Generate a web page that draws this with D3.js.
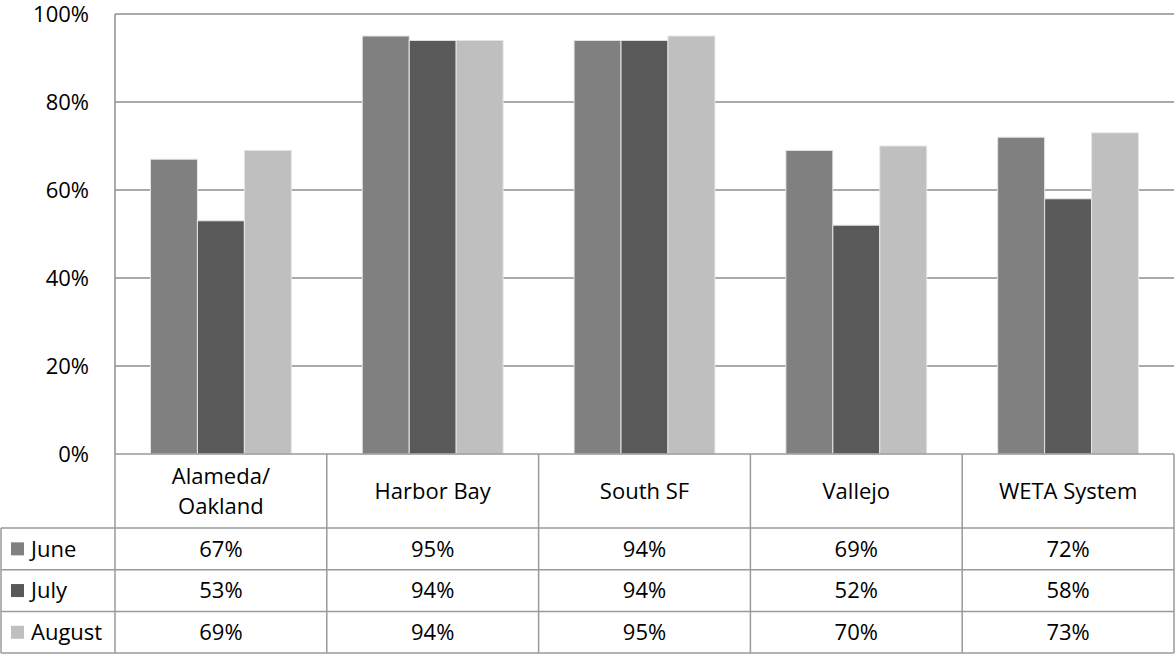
<!DOCTYPE html>
<html>
<head>
<meta charset="utf-8">
<script src="https://cdn.jsdelivr.net/npm/d3@7"></script>
<style>
  html, body { margin: 0; padding: 0; background: #fff; }
  svg { display: block; }
  text { font-family: "Open Sans", sans-serif; fill: #000; }
</style>
</head>
<body>
<svg id="chart" width="1175" height="656"></svg>
<script>
// Ferry on-time performance by route, summer months
const categories = [["Alameda/", "Oakland"], ["Harbor Bay"], ["South SF"], ["Vallejo"], ["WETA System"]];
const seriesNames = ["June", "July", "August"];
const june   = [67, 95, 94, 69, 72];
const july   = [53, 94, 94, 52, 58];
const august = [69, 94, 95, 70, 73];
const seriesValues = [june, july, august];
const seriesColors = ["#808080", "#595959", "#bfbfbf"];
const yTicks = [0, 20, 40, 60, 80, 100];

const plot = { left: 115, right: 1174, top: 14, bottom: 454 };
const table = { left: 1, headerBottom: 528, rowH: 41.7 };
const fontSize = 22;
const gridColor = "#8e8e8e";
const borderColor = "#9a9a9a";

const svg = d3.select("#chart");

const catIdx = d3.range(categories.length);
const x = d3.scaleBand().domain(catIdx).range([plot.left, plot.right]).paddingInner(0.335).paddingOuter(0.1675);
// table columns use the full category step
const col = d3.scaleBand().domain(catIdx).range([plot.left, plot.right]);
const xs = d3.scaleBand().domain(d3.range(seriesNames.length)).range([0, x.bandwidth()]);
const y = d3.scaleLinear().domain([0, 100]).range([plot.bottom, plot.top]);

// gridlines
svg.append("g")
  .selectAll("line").data(yTicks.filter(t => t > 0)).join("line")
  .attr("x1", plot.left).attr("x2", plot.right)
  .attr("y1", d => y(d)).attr("y2", d => y(d))
  .attr("stroke", gridColor).attr("stroke-width", 1.5);

// y axis tick labels
const yAxis = d3.axisLeft(y).tickValues(yTicks).tickFormat(d => d + "%").tickSize(0).tickPadding(26);
const ya = svg.append("g").attr("transform", `translate(${plot.left},0)`).call(yAxis);
ya.select(".domain").remove();
ya.selectAll("text").attr("font-family", "Open Sans").attr("font-size", fontSize).attr("fill", "#000");

// bars
const groups = svg.append("g").selectAll("g").data(catIdx).join("g")
  .attr("transform", i => `translate(${x(i)},0)`);
groups.selectAll("rect")
  .data(i => seriesValues.map((vals, s) => ({ s, v: vals[i] })))
  .join("rect")
  .attr("x", d => xs(d.s))
  .attr("width", xs.bandwidth())
  .attr("y", d => y(d.v))
  .attr("height", d => y(0) - y(d.v))
  .attr("fill", d => seriesColors[d.s])
  .attr("stroke", "#e6e6e6").attr("stroke-width", 1);

// value axis line
svg.append("line")
  .attr("x1", plot.left).attr("x2", plot.left)
  .attr("y1", plot.top).attr("y2", plot.bottom)
  .attr("stroke", gridColor).attr("stroke-width", 1.5);

// data table
const tbl = svg.append("g");
const rowTop = r => table.headerBottom + r * table.rowH;
const tableBottom = rowTop(seriesNames.length);

// horizontal rules
tbl.append("line").attr("x1", plot.left).attr("x2", plot.right)
  .attr("y1", plot.bottom).attr("y2", plot.bottom)
  .attr("stroke", borderColor).attr("stroke-width", 1.5);
tbl.selectAll("line.h").data(d3.range(seriesNames.length + 1)).join("line")
  .attr("class", "h")
  .attr("x1", table.left).attr("x2", plot.right)
  .attr("y1", r => rowTop(r)).attr("y2", r => rowTop(r))
  .attr("stroke", borderColor).attr("stroke-width", 1.5);

// vertical rules
const colEdges = catIdx.map(i => col(i)).concat([plot.right]);
tbl.selectAll("line.v").data(colEdges).join("line")
  .attr("class", "v")
  .attr("x1", d => d).attr("x2", d => d)
  .attr("y1", plot.bottom).attr("y2", tableBottom)
  .attr("stroke", borderColor).attr("stroke-width", 1.5);
tbl.append("line").attr("x1", table.left).attr("x2", table.left)
  .attr("y1", table.headerBottom).attr("y2", tableBottom)
  .attr("stroke", borderColor).attr("stroke-width", 1.5);

// category headers
const headerMid = (plot.bottom + table.headerBottom) / 2;
const lineGap = 30;
tbl.selectAll("text.cat").data(catIdx).join("text")
  .attr("class", "cat")
  .attr("text-anchor", "middle")
  .attr("font-size", fontSize)
  .each(function (i) {
    const lines = categories[i];
    const t = d3.select(this);
    lines.forEach((ln, k) => {
      t.append("tspan")
        .attr("x", col(i) + col.bandwidth() / 2)
        .attr("y", headerMid + (k - (lines.length - 1) / 2) * lineGap)
        .attr("dy", "0.35em")
        .text(ln);
    });
  });

// legend keys + series names
const rows = tbl.selectAll("g.row").data(seriesNames).join("g").attr("class", "row");
rows.append("rect")
  .attr("x", 11).attr("width", 13).attr("height", 13)
  .attr("y", (d, r) => rowTop(r) + table.rowH / 2 - 6.5)
  .attr("fill", (d, r) => seriesColors[r]);
rows.append("text")
  .attr("x", 31)
  .attr("y", (d, r) => rowTop(r) + table.rowH / 2)
  .attr("dy", "0.35em")
  .attr("font-size", fontSize)
  .text(d => d);

// value cells
rows.each(function (name, r) {
  d3.select(this).selectAll("text.val").data(seriesValues[r]).join("text")
    .attr("class", "val")
    .attr("text-anchor", "middle")
    .attr("x", (v, i) => col(i) + col.bandwidth() / 2)
    .attr("y", rowTop(r) + table.rowH / 2)
    .attr("dy", "0.35em")
    .attr("font-size", fontSize)
    .text(v => v + "%");
});
</script>
</body>
</html>
